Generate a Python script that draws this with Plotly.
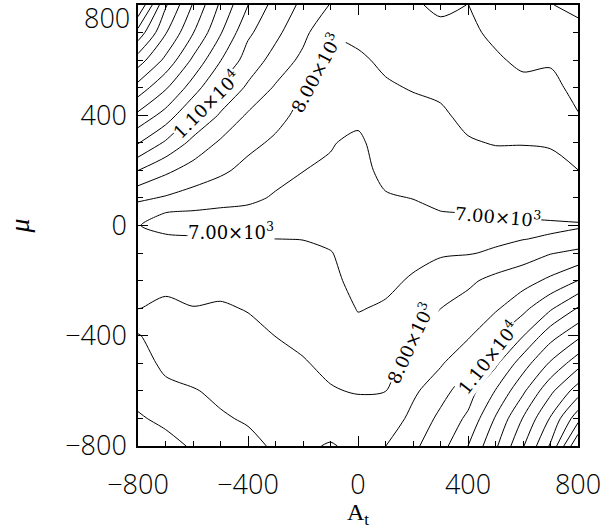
import plotly.graph_objects as go

# grid (A_t along x, mu along y)
x_vals = [-800, -700, -600, -500, -400, -300, -200, -100, 0, 100, 200, 300, 400, 500, 600, 700, 800]
y_vals = [-800, -700, -600, -500, -400, -300, -200, -100, -50, 0, 50, 100, 200, 300, 400, 500, 600, 700, 800]

# values, one row per mu value
z_m800 = [10400, 10300, 9900, 9450, 9200, 8900, 8800, 9100, 8700, 8990, 9800, 10610, 12000, 13830, 15920, 18130, 22000]
z_m700 = [10100, 9800, 9500, 9080, 8920, 8750, 8600, 8400, 8350, 8300, 9300, 10220, 11190, 13090, 15050, 17090, 19630]
z_m600 = [9700, 9200, 9050, 8850, 8700, 8550, 8350, 8050, 7950, 7990, 8800, 9660, 10530, 12040, 13810, 15760, 17500]
z_m500 = [9350, 8820, 8650, 8650, 8500, 8300, 8050, 7850, 7600, 7700, 8400, 8880, 9850, 10790, 12530, 14130, 15610]
z_m400 = [9080, 8400, 8300, 8400, 8250, 7990, 7850, 7700, 7300, 7400, 7950, 8380, 8870, 9890, 10960, 12620, 13760]
z_m300 = [7980, 8150, 8030, 8100, 7950, 7750, 7600, 7500, 6950, 7100, 7500, 7990, 8400, 8850, 9720, 10850, 12070]
z_m200 = [7750, 7800, 7600, 7700, 7550, 7450, 7400, 7300, 6620, 6800, 7100, 7400, 7800, 8300, 8600, 9210, 10010]
z_m100 = [7450, 7400, 7300, 7250, 7200, 7150, 7150, 7050, 6520, 6600, 6750, 6920, 6950, 7100, 7550, 7950, 8200]
z_m50 = [7300, 7150, 7100, 7060, 7020, 7010, 6990, 6800, 6480, 6550, 6650, 6750, 6800, 6870, 6980, 7130, 7500]
z_0 = [7030, 6750, 6700, 6680, 6650, 6600, 6600, 6550, 6450, 6500, 6550, 6600, 6650, 6700, 6750, 6800, 6850]
z_p50 = [7500, 7020, 6950, 6920, 6900, 6850, 6700, 6600, 6480, 6650, 6800, 6990, 7050, 7150, 7250, 7350, 7500]
z_p100 = [8200, 7900, 7600, 7200, 7100, 6950, 6800, 6680, 6520, 6900, 7020, 7200, 7270, 7300, 7350, 7450, 7650]
z_p200 = [10010, 9210, 8600, 8220, 7650, 7150, 7010, 6880, 6620, 7300, 7250, 7400, 7600, 7650, 7700, 7750, 7990]
z_p300 = [12070, 10850, 9720, 8850, 8310, 7800, 7330, 7060, 6800, 7500, 7500, 7620, 7930, 8040, 8030, 8070, 8500]
z_p400 = [13760, 12620, 10960, 9890, 8870, 8380, 7650, 7350, 7250, 7700, 7750, 7880, 8200, 8350, 8400, 8400, 8960]
z_p500 = [15610, 14130, 12530, 10790, 9850, 8880, 8030, 7620, 7550, 7900, 8050, 8150, 8450, 8600, 8800, 8750, 9260]
z_p600 = [17500, 15760, 13810, 12040, 10530, 9660, 8740, 7870, 7870, 8150, 8300, 8450, 8650, 8900, 9150, 9100, 9550]
z_p700 = [19630, 17090, 15050, 13090, 11190, 10220, 9300, 8030, 8200, 8400, 8550, 8800, 8850, 9150, 9450, 9500, 9850]
z_p800 = [22000, 18130, 15920, 13830, 12010, 10610, 9800, 8950, 8500, 8650, 8900, 9150, 8990, 9400, 9750, 9980, 10130]

z_rows = [z_m800, z_m700, z_m600, z_m500, z_m400, z_m300, z_m200, z_m100, z_m50, z_0,
          z_p50, z_p100, z_p200, z_p300, z_p400, z_p500, z_p600, z_p700, z_p800]

level_start, level_end, level_step = 7000, 21000, 1000

tick_vals = [-800, -400, 0, 400, 800]
x_tick_text = ["\u2212800", "\u2212400", "0", "400", "800"]
y_tick_text = ["\u2212800", "\u2212400", "0", "400", ""]

# contour labels: text, A_t, mu, angle
label_text = ["1.10\u00d710<sup>4</sup>", "8.00\u00d710<sup>3</sup>", "7.00\u00d710<sup>3</sup>",
              "7.00\u00d710<sup>3</sup>", "8.00\u00d710<sup>3</sup>", "1.10\u00d710<sup>4</sup>"]
label_x = [-553, -156, -462, 509, 189, 473]
label_y = [441, 555, -20, 35, -427, -478]
label_angle = [-45, -62, 0, 5, -65, -52]

fig = go.Figure()
fig.add_trace(go.Contour(
    x=x_vals, y=y_vals, z=z_rows,
    contours=dict(coloring="lines", start=level_start, end=level_end, size=level_step, showlabels=False),
    colorscale=[[0, "black"], [1, "black"]],
    line=dict(width=1, color="black", smoothing=0.8),
    showscale=False, hoverinfo="skip",
))

tick_font = dict(family="Open Sans", size=27, color="black", weight=300)
axis_common = dict(
    range=[-800, 800], tickvals=tick_vals, ticks="inside", ticklen=10, tickwidth=1,
    tickcolor="black", showline=True, linecolor="black", linewidth=1.5, mirror="allticks",
    showgrid=False, zeroline=False, tickfont=tick_font, automargin=False,
    minor=dict(dtick=100, ticks="inside", ticklen=5, tickcolor="black", tickwidth=1, showgrid=False),
)

fig.update_layout(
    width=604, height=529,
    margin=dict(l=138, r=26, t=5, b=83),
    paper_bgcolor="white", plot_bgcolor="white",
    showlegend=False,
    xaxis=dict(**axis_common, ticktext=x_tick_text, ticklabelstandoff=14,
               title=dict(text="A<sub>t</sub>", font=dict(family="Liberation Serif", size=24, color="black"), standoff=12)),
    yaxis=dict(**axis_common, ticktext=y_tick_text, ticklabelstandoff=4,
               title=dict(text="<i>\u03bc</i>", font=dict(family="Liberation Serif", size=28, color="black"), standoff=27)),
)

annotations = []
for t, lx, ly, ang in zip(label_text, label_x, label_y, label_angle):
    annotations.append(dict(x=lx, y=ly, xref="x", yref="y", text=t, showarrow=False, textangle=ang,
                            font=dict(family="DejaVu Serif", size=18, color="black"),
                            bgcolor="white", borderpad=0))
# top tick label of the mu axis, drawn inside the page as in the original
annotations.append(dict(x=0, y=1, xref="paper", yref="paper", text="800", showarrow=False,
                        xanchor="right", yanchor="top", xshift=-6, yshift=8, font=tick_font))
fig.update_layout(annotations=annotations)

fig.write_html("out.html", config={"displayModeBar": False},
               post_script="document.body.style.margin='0px';document.body.style.padding='0px';")
